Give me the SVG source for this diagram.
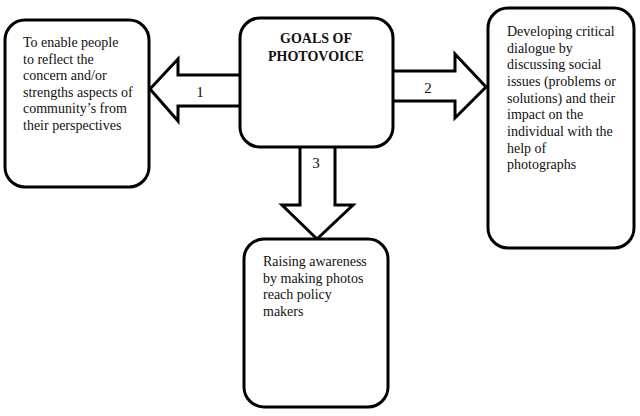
<svg xmlns="http://www.w3.org/2000/svg" width="640" height="416" viewBox="0 0 640 416" font-family="'Liberation Serif', 'DejaVu Serif', serif">
<style>
.box{fill:#fff;stroke:#000;stroke-width:3}
.arr{fill:#fff;stroke:#000;stroke-width:3;stroke-linejoin:miter}
text{font-family:'Liberation Serif','DejaVu Serif',serif;font-size:14px;fill:#111}
.title{font-weight:bold;text-anchor:middle}
.lbl{font-size:15px;text-anchor:middle}
</style>
<rect width="640" height="416" fill="#fff"/>
<g id="connectors">
<path class="arr" d="M240,75 L178,75 L178,59 L150,89 L178,121 L178,106 L240,106"/>
<text class="lbl" x="200" y="97">1</text>
<path class="arr" d="M392,71 L455,71 L455,54 L486,87 L455,118 L455,101 L392,101"/>
<text class="lbl" x="428" y="93">2</text>
<path class="arr" d="M300,147 L300,205 L282,205 L317,239 L353,205 L335,205 L335,147"/>
<text class="lbl" x="316" y="168">3</text>
</g>
<g id="goals">
<rect class="box" x="240" y="18" width="153" height="129" rx="20"/>
<text class="title" x="316" y="43">GOALS OF</text>
<text class="title" x="316" y="61">PHOTOVOICE</text>
</g>
<g id="goal1">
<rect class="box" x="5" y="20" width="144" height="167" rx="20"/>
<text x="23" y="47">To enable people</text>
<text x="23" y="63.5">to reflect the</text>
<text x="23" y="80">concern and/or</text>
<text x="23" y="96.5">strengths aspects of</text>
<text x="23" y="113">community’s from</text>
<text x="23" y="129.5">their perspectives</text>
</g>
<g id="goal2">
<rect class="box" x="488" y="8" width="146" height="240" rx="20"/>
<text x="507" y="36">Developing critical</text>
<text x="507" y="52.7">dialogue by</text>
<text x="507" y="69.3">discussing social</text>
<text x="507" y="86">issues (problems or</text>
<text x="507" y="102.7">solutions) and their</text>
<text x="507" y="119.3">impact on the</text>
<text x="507" y="136">individual with the</text>
<text x="507" y="152.7">help of</text>
<text x="507" y="169.3">photographs</text>
</g>
<g id="goal3">
<rect class="box" x="244" y="239" width="144" height="168" rx="20"/>
<text x="263" y="266">Raising awareness</text>
<text x="263" y="282.7">by making photos</text>
<text x="263" y="299.3">reach policy</text>
<text x="263" y="316">makers</text>
</g>
</svg>
